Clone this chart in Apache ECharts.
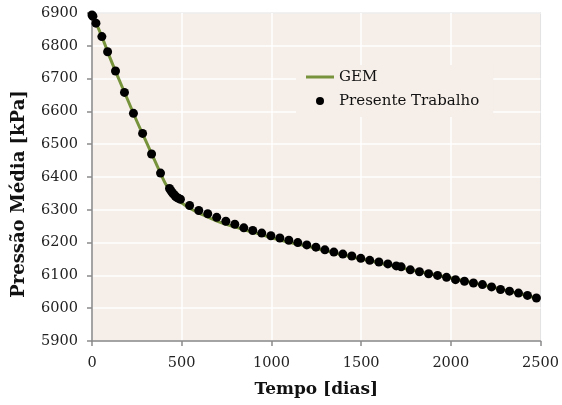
<!DOCTYPE html>
<html>
<head>
<meta charset="utf-8">
<script src="https://cdn.jsdelivr.net/npm/echarts@6/dist/echarts.min.js"></script>
<style>
  html, body { margin: 0; padding: 0; background: #ffffff; }
  #chart { width: 562px; height: 405px; }
</style>
</head>
<body>
<div id="chart"></div>
<script>
// Simulated average reservoir pressure vs. time (GEM reference curve)
const gemTime = [0, 50, 100, 150, 200, 250, 300, 350, 400, 420, 440, 460, 480, 500, 550, 600, 700, 800, 900, 1000, 1100, 1200, 1400, 1600, 1800, 2000, 2200, 2400, 2480];
const gemPressure = [6896, 6835, 6764, 6698, 6634, 6570, 6510, 6450, 6390, 6370, 6354, 6341, 6330, 6321, 6303, 6289, 6265, 6247, 6231, 6215, 6201, 6189, 6162, 6138, 6114, 6092, 6068, 6042, 6030];

// Present work results
const workTime = [0, 5, 22, 55, 87, 131, 181, 231, 282, 332, 382, 432, 440, 448, 456, 464, 472, 482, 493, 544, 595, 645, 695, 746, 796, 846, 896, 946, 997, 1047, 1097, 1147, 1197, 1248, 1298, 1348, 1398, 1448, 1498, 1548, 1599, 1649, 1696, 1723, 1774, 1825, 1876, 1926, 1976, 2026, 2076, 2126, 2176, 2227, 2277, 2327, 2377, 2427, 2477];
const workPressure = [6894, 6890, 6869, 6828, 6782, 6723, 6658, 6594, 6533, 6470, 6412, 6365, 6358, 6352, 6347, 6342, 6338, 6335, 6332, 6313, 6298, 6288, 6277, 6265, 6256, 6245, 6237, 6229, 6221, 6214, 6207, 6200, 6193, 6186, 6178, 6171, 6165, 6159, 6152, 6146, 6141, 6135, 6129, 6126, 6117, 6111, 6105, 6100, 6094, 6087, 6082, 6077, 6072, 6065, 6057, 6052, 6046, 6039, 6031];

const xTicks = { min: 0, max: 2500, step: 500 };
const yTicks = { min: 5900, max: 6900, step: 100 };

const seriesNames = ['GEM', 'Presente Trabalho'];

const FONT = '"DejaVu Serif", serif';
const PLOT_BG = '#F6EEE8';
const AXIS_GRAY = '#8a8a8a';
const GEM_GREEN = '#77933C';

const chart = echarts.init(document.getElementById('chart'), null, { renderer: 'canvas' });

chart.setOption({
  animation: false,
  backgroundColor: '#ffffff',
  grid: {
    left: 92, right: 21, top: 13, bottom: 64,
    show: true,
    backgroundColor: PLOT_BG,
    borderColor: AXIS_GRAY,
    borderWidth: 1
  },
  legend: {
    orient: 'vertical',
    left: 296,
    top: 65,
    padding: [4, 14, 8, 10],
    backgroundColor: PLOT_BG,
    itemWidth: 28,
    itemHeight: 8,
    itemGap: 8,
    symbolKeepAspect: true,
    textStyle: { fontFamily: FONT, fontSize: 15, color: '#111', lineHeight: 16 },
    data: [
      { name: seriesNames[0], icon: 'path://M0,0 L28,0 L28,3 L0,3 Z', itemStyle: { color: GEM_GREEN } },
      { name: seriesNames[1], icon: 'circle', itemStyle: { color: '#000000', opacity: 1 } }
    ]
  },
  xAxis: {
    type: 'value',
    min: xTicks.min, max: xTicks.max, interval: xTicks.step,
    name: 'Tempo [dias]',
    nameLocation: 'middle',
    nameGap: 40,
    nameTextStyle: { fontFamily: FONT, fontSize: 17, fontWeight: 'bold', color: '#111' },
    axisLine: { show: true, lineStyle: { color: AXIS_GRAY, width: 1.5 } },
    axisTick: { show: true, length: 5, lineStyle: { color: AXIS_GRAY, width: 1.5 } },
    axisLabel: { fontFamily: FONT, fontSize: 14.5, color: '#222', margin: 15, formatter: v => String(v) },
    splitLine: { show: true, lineStyle: { color: '#ffffff', width: 1.5 } }
  },
  yAxis: {
    type: 'value',
    min: yTicks.min, max: yTicks.max, interval: yTicks.step,
    name: 'Pressão Média [kPa]',
    nameLocation: 'middle',
    nameGap: 64,
    nameTextStyle: { fontFamily: FONT, fontSize: 18, fontWeight: 'bold', color: '#111', padding: [0, 34, 0, 0] },
    axisLine: { show: true, lineStyle: { color: AXIS_GRAY, width: 1.5 } },
    axisTick: { show: true, length: 5, lineStyle: { color: AXIS_GRAY, width: 1.5 } },
    axisLabel: { fontFamily: FONT, fontSize: 14.5, color: '#222', margin: 14, formatter: v => String(v) },
    splitLine: { show: true, lineStyle: { color: '#ffffff', width: 1.5 } }
  },
  series: [
    {
      name: seriesNames[0],
      type: 'line',
      data: gemTime.map((t, i) => [t, gemPressure[i]]),
      smooth: 0.4,
      symbol: 'none',
      lineStyle: { color: GEM_GREEN, width: 3 },
      itemStyle: { color: GEM_GREEN },
      z: 2
    },
    {
      name: seriesNames[1],
      type: 'scatter',
      data: workTime.map((t, i) => [t, workPressure[i]]),
      symbol: 'circle',
      symbolSize: 9,
      itemStyle: { color: '#000000', opacity: 1 },
      z: 3
    }
  ]
});
</script>
</body>
</html>
